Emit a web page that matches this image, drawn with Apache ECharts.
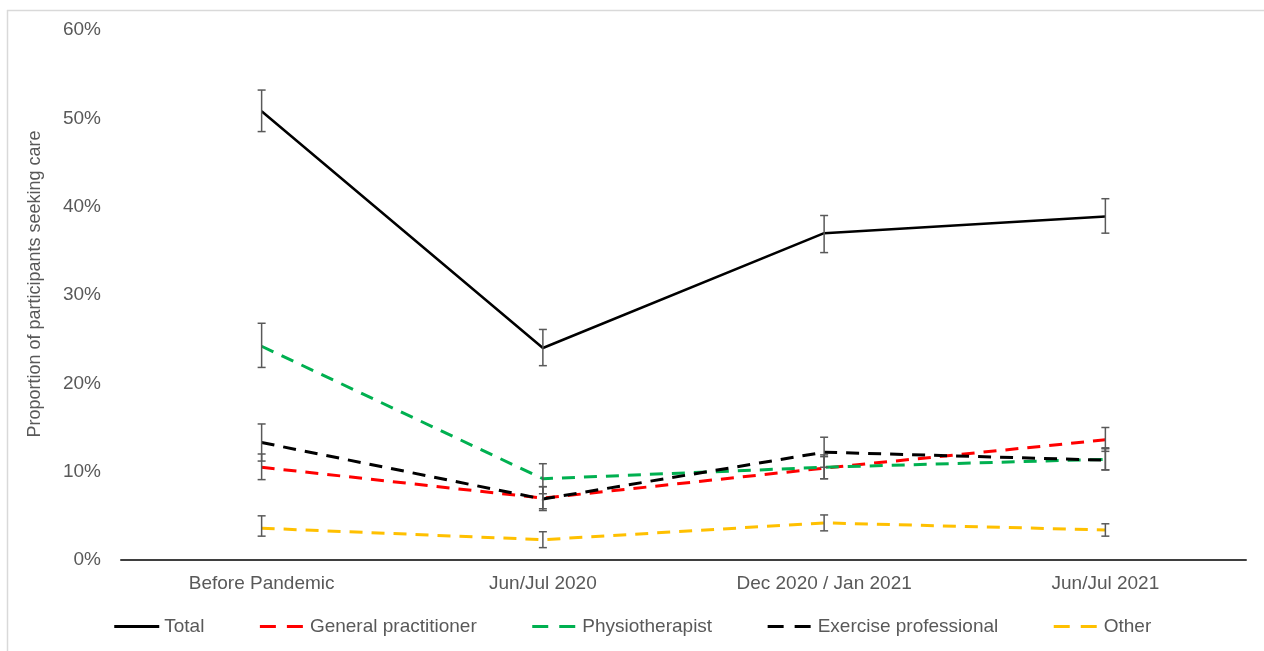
<!DOCTYPE html>
<html>
<head>
<meta charset="utf-8">
<script src="https://cdn.jsdelivr.net/npm/echarts@6/dist/echarts.min.js"></script>
<style>
  html, body { margin: 0; padding: 0; background: #fff; }
  #chart { width: 1264px; height: 651px; }
</style>
</head>
<body>
<div id="chart"></div>
<script>
const categories = ['Before Pandemic', 'Jun/Jul 2020', 'Dec 2020 / Jan 2021', 'Jun/Jul 2021']

// values in percent, with lower / upper error bar ends
const total = [50.8, 24.0, 37.0, 38.9]
const totalLow = [48.5, 22.0, 34.8, 37.0]
const totalHigh = [53.2, 26.1, 39.0, 40.9]

const gp = [10.5, 7.0, 10.4, 13.6]
const gpLow = [9.1, 5.8, 9.2, 12.3]
const gpHigh = [12.0, 8.3, 11.7, 15.0]

const physio = [24.2, 9.2, 10.5, 11.4]
const physioLow = [21.8, 7.5, 9.2, 10.2]
const physioHigh = [26.8, 10.9, 11.9, 12.7]

const exercise = [13.3, 6.9, 12.2, 11.3]
const exerciseLow = [11.2, 5.6, 10.5, 10.2]
const exerciseHigh = [15.4, 8.3, 13.9, 12.6]

const other = [3.6, 2.3, 4.2, 3.4]
const otherLow = [2.7, 1.4, 3.3, 2.7]
const otherHigh = [5.0, 3.2, 5.1, 4.1]

const FONT = '"Liberation Sans", Arial, sans-serif'
const TEXT = '#595959'
const DASH = [13, 9]
const LEGEND_DASH = [16, 11]

function lineSeries (name, data, color, dashed) {
  return {
    name,
    type: 'line',
    data,
    symbol: 'none',
    z: 3,
    lineStyle: { color, width: dashed ? 3 : 2.5, type: dashed ? DASH : 'solid' },
    itemStyle: { color }
  }
}

function errorSeries (low, high) {
  return {
    type: 'custom',
    z: 4,
    silent: true,
    data: low.map((v, i) => [i, v, high[i]]),
    renderItem: (params, api) => {
      const lo = api.coord([api.value(0), api.value(1)])
      const hi = api.coord([api.value(0), api.value(2)])
      const hw = 4
      const style = { stroke: '#595959', lineWidth: 1.5 }
      return {
        type: 'group',
        children: [
          { type: 'line', shape: { x1: lo[0], y1: lo[1], x2: hi[0], y2: hi[1] }, style },
          { type: 'line', shape: { x1: lo[0] - hw, y1: lo[1], x2: lo[0] + hw, y2: lo[1] }, style },
          { type: 'line', shape: { x1: hi[0] - hw, y1: hi[1], x2: hi[0] + hw, y2: hi[1] }, style }
        ]
      }
    }
  }
}

const chart = echarts.init(document.getElementById('chart'))
chart.setOption({
  backgroundColor: '#fff',
  animation: false,
  textStyle: { fontFamily: FONT },
  graphic: [
    { type: 'line', shape: { x1: 7, y1: 10.5, x2: 1264, y2: 10.5 }, style: { stroke: '#d9d9d9', lineWidth: 1.5 } },
    { type: 'line', shape: { x1: 7.5, y1: 10, x2: 7.5, y2: 651 }, style: { stroke: '#d9d9d9', lineWidth: 1.5 } }
  ],
  grid: { left: 121, right: 18, top: 30, bottom: 91 },
  legend: {
    bottom: 10,
    left: 'center',
    itemWidth: 45,
    itemHeight: 14,
    itemGap: 54,
    itemStyle: { opacity: 0 },
    lineStyle: { width: 3 },
    data: [
      { name: 'Total', lineStyle: { type: 'solid' } },
      { name: 'General practitioner', lineStyle: { type: LEGEND_DASH } },
      { name: 'Physiotherapist', lineStyle: { type: LEGEND_DASH } },
      { name: 'Exercise professional', lineStyle: { type: LEGEND_DASH } },
      { name: 'Other', lineStyle: { type: LEGEND_DASH } }
    ],
    textStyle: { color: TEXT, fontSize: 19, fontFamily: FONT }
  },
  xAxis: {
    type: 'category',
    data: categories,
    boundaryGap: true,
    axisLine: { lineStyle: { color: '#3f3f3f', width: 2 } },
    axisTick: { show: false },
    axisLabel: { color: TEXT, fontSize: 19, margin: 14, interval: 0 }
  },
  yAxis: {
    type: 'value',
    min: 0,
    max: 60,
    interval: 10,
    name: 'Proportion of participants seeking care',
    nameLocation: 'middle',
    nameGap: 77,
    nameTextStyle: { color: TEXT, fontSize: 18, fontFamily: FONT, padding: [0, 0, 0, 22] },
    axisLine: { show: false },
    axisTick: { show: false },
    splitLine: { show: false },
    axisLabel: { color: TEXT, fontSize: 19, margin: 20, formatter: '{value}%' }
  },
  series: [
    lineSeries('Total', total, '#000000', false),
    lineSeries('General practitioner', gp, '#ff0000', true),
    lineSeries('Physiotherapist', physio, '#00b050', true),
    lineSeries('Exercise professional', exercise, '#000000', true),
    lineSeries('Other', other, '#ffc000', true),
    errorSeries(totalLow, totalHigh),
    errorSeries(gpLow, gpHigh),
    errorSeries(physioLow, physioHigh),
    errorSeries(exerciseLow, exerciseHigh),
    errorSeries(otherLow, otherHigh)
  ]
})
</script>
</body>
</html>
